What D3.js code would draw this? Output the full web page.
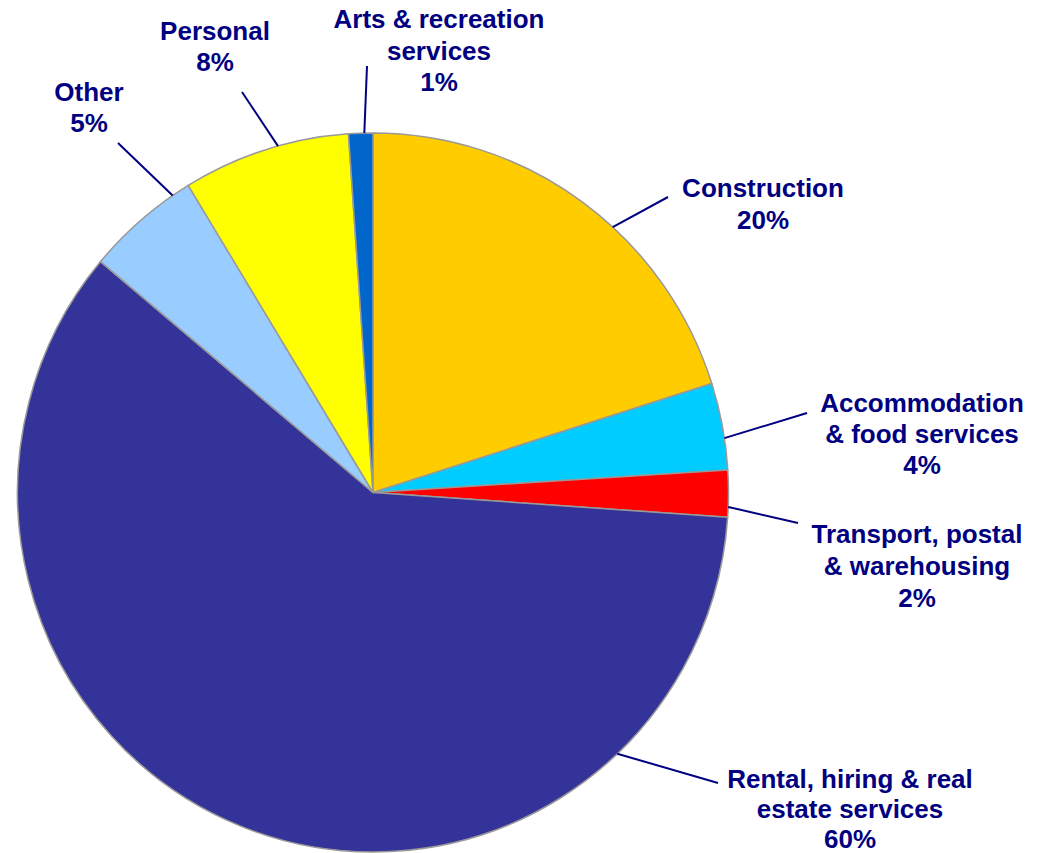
<!DOCTYPE html>
<html>
<head>
<meta charset="utf-8">
<script src="https://cdn.jsdelivr.net/npm/d3@7"></script>
<style>
  html, body { margin: 0; padding: 0; background: #fff; }
  svg { display: block; }
</style>
</head>
<body>
<svg id="chart" width="1041" height="853"></svg>
<script>
// ---- Data ----
const categories = [
  "Construction",
  "Accommodation\n& food services",
  "Transport, postal\n& warehousing",
  "Rental, hiring & real\nestate services",
  "Other",
  "Personal",
  "Arts & recreation\nservices"
];
const shares = [20.1, 3.9, 2.1, 60.0, 5.2, 7.6, 1.1];
const pctLabels = ["20%", "4%", "2%", "60%", "5%", "8%", "1%"];

// ---- Styles / layout ----
const colors = ["#FFCC00", "#00CCFF", "#FF0000", "#333399", "#99CCFF", "#FFFF00", "#0066CC"];
// label centre x, first baseline y, line height, leader end (lx, ly), leader attach angle on pie (deg)
const labelLayout = [
  { x: 763, y: 197, lh: 31.5, lx: 668, ly: 197, ang: 42.4 },
  { x: 922, y: 412, lh: 31.0, lx: 807, ly: 413, ang: 81.3 },
  { x: 917, y: 543, lh: 32.0, lx: 798, ly: 523, ang: 92.3 },
  { x: 850, y: 788, lh: 30.0, lx: 718, ly: 783, ang: 136.6 },
  { x: 89,  y: 101, lh: 31.0, lx: 118, ly: 143, ang: 325.7 },
  { x: 215, y: 40,  lh: 31.0, lx: 242, ly: 92,  ang: 344.5 },
  { x: 439, y: 28,  lh: 31.5, lx: 367, ly: 66,  ang: 358.6 }
];
const cx = 373, cy = 492.5, r = 355.5, sy = 359.5 / 355.5;
const textColor = "#000080";

const svg = d3.select("#chart");
const pie = d3.pie().sort(null).value(d => d).startAngle(0).endAngle(2 * Math.PI);
const arcs = pie(shares);
const arc = d3.arc().innerRadius(0).outerRadius(r);

const g = svg.append("g").attr("transform", `translate(${cx},${cy}) scale(1,${sy})`);
g.selectAll("path.slice")
  .data(arcs)
  .enter().append("path")
  .attr("class", "slice")
  .attr("d", arc)
  .attr("fill", (d, i) => colors[i])
  .attr("stroke", "#999999")
  .attr("stroke-width", 1.5)
  .attr("stroke-linejoin", "round");

// Leader lines
arcs.forEach((d, i) => {
  const L = labelLayout[i];
  let a = L.ang * Math.PI / 180;
  a = Math.max(d.startAngle, Math.min(d.endAngle, a));
  const px = cx + r * Math.sin(a);
  const py = cy - r * Math.cos(a) * sy;
  svg.append("line")
    .attr("x1", L.lx).attr("y1", L.ly)
    .attr("x2", px).attr("y2", py)
    .attr("stroke", textColor)
    .attr("stroke-width", 2);
});

// Labels
categories.forEach((c, i) => {
  const L = labelLayout[i];
  const lines = c.split("\n").concat([pctLabels[i]]);
  const t = svg.append("text")
    .attr("text-anchor", "middle")
    .attr("font-family", "'Liberation Sans', Arial, sans-serif")
    .attr("font-weight", "bold")
    .attr("font-size", 26)
    .attr("fill", textColor);
  lines.forEach((ln, k) => {
    t.append("tspan").attr("x", L.x).attr("y", L.y + k * L.lh).text(ln);
  });
});
</script>
</body>
</html>
